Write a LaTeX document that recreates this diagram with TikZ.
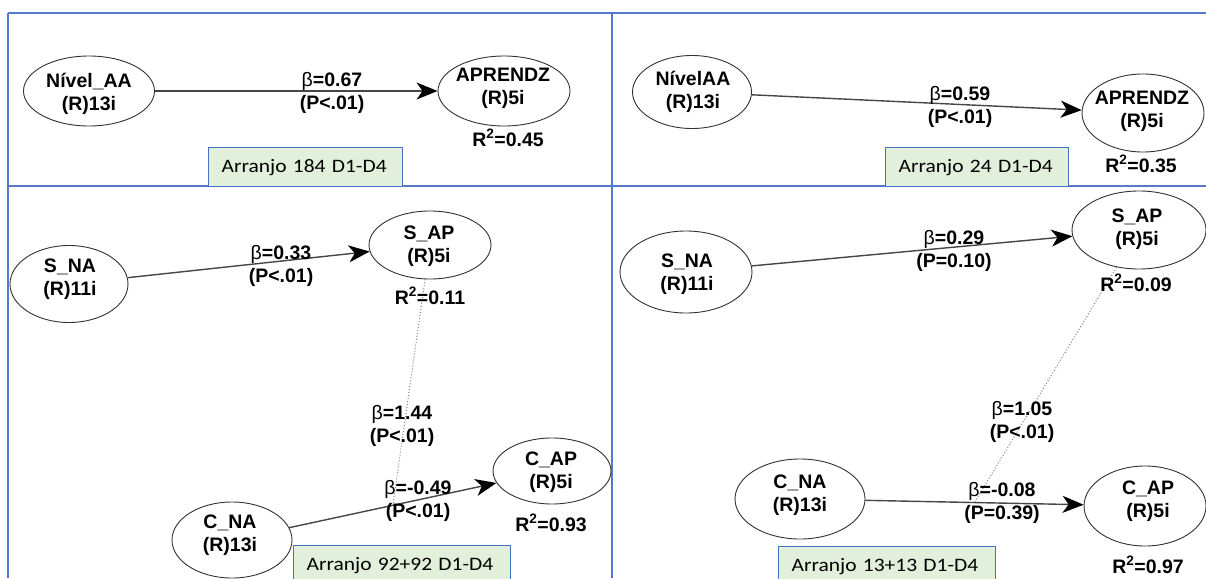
\documentclass[tikz,border=0pt]{standalone}
\usepackage{fontspec}
\setmainfont{Liberation Sans}
\newfontfamily\boxfont{Carlito}[FakeStretch=1.13]
\usetikzlibrary{shapes.geometric,arrows.meta}
\definecolor{gridblue}{RGB}{84,122,204}
\definecolor{boxblue}{RGB}{68,114,196}
\definecolor{boxgreen}{RGB}{226,239,218}
\definecolor{ink}{RGB}{50,50,50}
\definecolor{linegray}{RGB}{70,70,70}
\begin{document}
\begin{tikzpicture}[x=1pt,y=-1pt,
  lv/.style={ellipse, draw=ink, line width=0.9pt, inner sep=0pt},
  lvtext/.style={font=\fontsize{19.5}{23}\selectfont\bfseries, align=center, text=black, inner sep=0pt},
  pathlbl/.style={font=\fontsize{19.5}{23}\selectfont\bfseries, align=center, inner sep=0pt},
  rsq/.style={font=\fontsize{19.5}{23}\selectfont\bfseries, inner sep=0pt},
  arr/.style={draw=linegray, line width=1.4pt, -{Stealth[length=21pt,width=17pt,inset=6pt,color=black]}},
  mod/.style={draw=gray, line width=1pt, dotted},
  gridline/.style={draw=gridblue, line width=1.5pt},
  arrbox/.style={draw=boxblue, fill=boxgreen, line width=1.2pt, anchor=north west,
    minimum height=39pt, inner xsep=13pt, inner ysep=0pt, align=left,
    font=\boxfont\fontsize{19}{22}\selectfont},
]
\useasboundingbox (0,0) rectangle (1206,578);
\fill[white] (0,0) rectangle (1206,578);
\begin{scope}
\clip (0,0) rectangle (1206,578);
% grid
\draw[gridline] (8,13) -- (1206,13);
\draw[gridline] (8,186) -- (1206,186);
\draw[gridline] (8,13) -- (8,578);
\draw[gridline] (612,13) -- (612,578);

% ---------- Quadrant 1 ----------
\node[lv, minimum width=131pt, minimum height=70pt] (naa1) at (89,91) {};
\node[lv, minimum width=132pt, minimum height=70pt] (apr1) at (504,91) {};
\node[lvtext] at (89,93.5) {Nível\_AA\\(R)13i};
\node[lvtext] at (503,88) {APRENDZ\\(R)5i};
\draw[arr] (naa1) -- (apr1);
\node[pathlbl] at (332,93) {{\mdseries β}=0.67\\(P<.01)};
\node[rsq] at (508,138) {R\textsuperscript{2}=0.45};
\node[arrbox, text width=168pt] (b1) at (208,147) {Arranjo 184 D1-D4};

% ---------- Quadrant 2 ----------
\node[lv, minimum width=119pt, minimum height=73pt] (naa2) at (692,92) {};
\node[lv, minimum width=122pt, minimum height=78pt] (apr2) at (1143,113) {};
\node[lvtext] at (693,92) {NívelAA\\(R)13i};
\node[lvtext] at (1142,111) {APRENDZ\\(R)5i};
\draw[arr] (naa2) -- (apr2);
\node[pathlbl] at (960,107) {{\mdseries β}=0.59\\(P<.01)};
\node[rsq] at (1141,164) {R\textsuperscript{2}=0.35};
\node[arrbox, text width=157pt] (b2) at (885,147) {Arranjo 24 D1-D4};

% ---------- Quadrant 3 ----------
\node[lv, minimum width=118pt, minimum height=77pt] (sna3) at (69,284) {};
\node[lv, minimum width=122pt, minimum height=68pt] (sap3) at (430,245) {};
\node[lv, minimum width=120pt, minimum height=76pt] (cna3) at (232,540) {};
\node[lv, minimum width=118pt, minimum height=66pt] (cap3) at (552,471) {};
\node[lvtext] at (70,279) {S\_NA\\(R)11i};
\node[lvtext] at (429,246.5) {S\_AP\\(R)5i};
\node[lvtext] at (230,535.5) {C\_NA\\(R)13i};
\node[lvtext] at (551,472) {C\_AP\\(R)5i};
\draw[arr] (sna3) -- (sap3);
\draw[arr] (cna3) -- coordinate[pos=0.5] (m3) (cap3);
\draw[mod] (sap3) -- (m3);
\node[pathlbl] at (281,266) {{\mdseries β}=0.33\\(P<.01)};
\node[pathlbl] at (402,425.5) {{\mdseries β}=1.44\\(P<.01)};
\node[pathlbl] at (418,501) {{\mdseries β}=-0.49\\(P<.01)};
\node[rsq] at (430,296) {R\textsuperscript{2}=0.11};
\node[rsq] at (551,523) {R\textsuperscript{2}=0.93};
\node[arrbox, text width=191pt] (b3) at (293,545) {Arranjo 92+92 D1-D4};

% ---------- Quadrant 4 ----------
\node[lv, minimum width=132pt, minimum height=82pt] (sna4) at (686,272) {};
\node[lv, minimum width=134pt, minimum height=78pt] (sap4) at (1139,230) {};
\node[lv, minimum width=130pt, minimum height=80pt] (cna4) at (800,499) {};
\node[lv, minimum width=122pt, minimum height=80pt] (cap4) at (1145,506) {};
\node[lvtext] at (687,274.5) {S\_NA\\(R)11i};
\node[lvtext] at (1137,229.5) {S\_AP\\(R)5i};
\node[lvtext] at (800,495.5) {C\_NA\\(R)13i};
\node[lvtext] at (1148,501.5) {C\_AP\\(R)5i};
\draw[arr] (sna4) -- (sap4);
\draw[arr] (cna4) -- coordinate[pos=0.5] (m4) (cap4);
\draw[mod] (sap4) -- (m4);
\node[pathlbl] at (954,250.5) {{\mdseries β}=0.29\\(P=0.10)};
\node[pathlbl] at (1022,421.5) {{\mdseries β}=1.05\\(P<.01)};
\node[pathlbl] at (1002,503) {{\mdseries β}=-0.08\\(P=0.39)};
\node[rsq] at (1136,283) {R\textsuperscript{2}=0.09};
\node[rsq] at (1148,565) {R\textsuperscript{2}=0.97};
\node[arrbox, text width=191pt] (b4) at (778,546) {Arranjo 13+13 D1-D4};
\end{scope}
\end{tikzpicture}
\end{document}
